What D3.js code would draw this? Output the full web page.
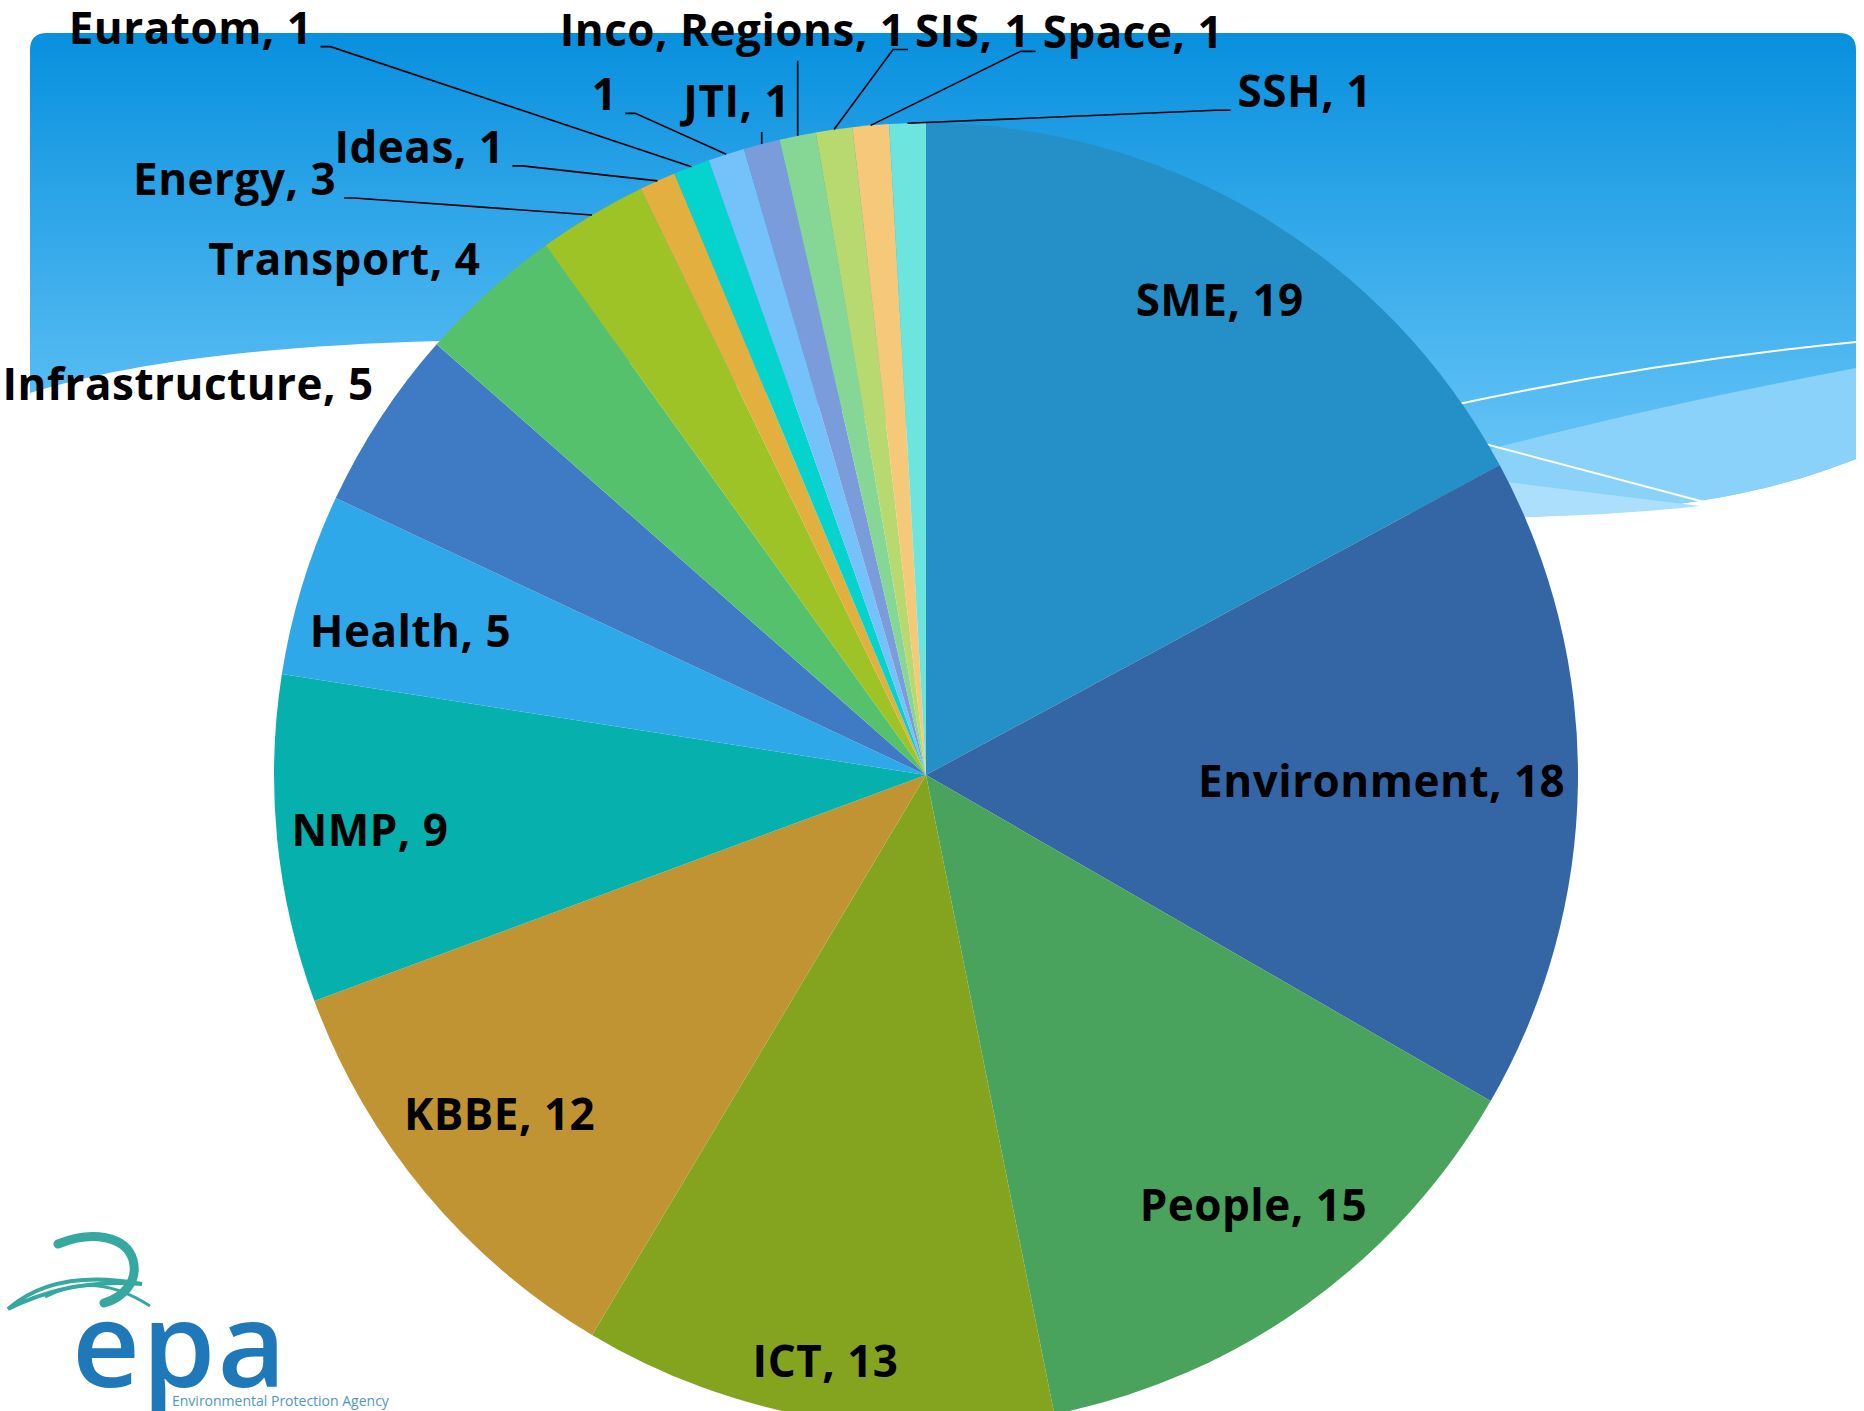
<!DOCTYPE html>
<html>
<head>
<meta charset="utf-8">
<script src="https://cdn.jsdelivr.net/npm/d3@7"></script>
<style>
body { margin: 0; background: #fff; }
svg { display: block; }
text { font-family: "Open Sans", sans-serif; }
</style>
</head>
<body>
<svg id="chart"></svg>
<script>
// data
var categories = ["SME", "Environment", "People", "ICT", "KBBE", "NMP", "Health", "Infrastructure", "Transport", "Energy",
	"Ideas", "Euratom", "", "JTI", "Inco, Regions", "SIS", "Space", "SSH"];
var counts = [19, 18, 15, 13, 12, 9, 5, 5, 4, 3, 1, 1, 1, 1, 1, 1, 1, 1];
var colors = ["#2490c7", "#3465a5", "#49a35d", "#84a420", "#c09432", "#05b0ad", "#2fa8e9", "#3f7bc4", "#56c16d", "#9dc326",
	"#e3b040", "#05d3ce", "#75c2fb", "#7b9cda", "#86d795", "#b8d870", "#f5c979", "#6ce5de"];

// labels inside the pie: [share of radius, angle shift in degrees from the bisector]
var insideLabels = {
	"SME": [0.857, 0.9], "Environment": [0.699, 0], "People": [0.829, -1.6], "ICT": [0.912, 0],
	"KBBE": [0.836, 1.2], "NMP": [0.857, 0], "Health": [0.821, -1.4]
};

// labels placed outside the pie (offset from the slice's arc midpoint)
var outsideLabels = {
	"Infrastructure": {anchor: "end", dx: -7, dy: -18, leader: "none"},
	"Transport": {anchor: "end", dx: -8, dy: -17, leader: "none"},
	"Energy": {anchor: "end", dx: -256, dy: -20, leader: "left"},
	"Ideas": {anchor: "end", dx: -153, dy: -18, leader: "left"},
	"Euratom": {anchor: "end", dx: -379, dy: -123, leader: "left"},
	"": {anchor: "end", dx: -109, dy: -44, leader: "left"},
	"JTI": {anchor: "middle", dx: -25, dy: -27, leader: "down"},
	"Inco, Regions": {anchor: "start", dx: -238, dy: -90, leader: "down"},
	"SIS": {anchor: "start", dx: 81, dy: -83, leader: "right"},
	"Space": {anchor: "start", dx: 172, dy: -77, leader: "right"},
	"SSH": {anchor: "start", dx: 330, dy: -16, leader: "right"}
};

var width = 1864,
	height = 1411;
var cx = 926, cy = 775, R = 652;
var fontSize = 44;

var svg = d3.select("#chart").attr("width", width).attr("height", height);

// background slide decoration
var defs = svg.append("defs");
var grad = defs.append("linearGradient").attr("id", "bg").attr("x1", 0).attr("y1", 0).attr("x2", 0).attr("y2", 1);
grad.append("stop").attr("offset", "0%").attr("stop-color", "#0890de");
grad.append("stop").attr("offset", "75%").attr("stop-color", "#57bcf3");
grad.append("stop").attr("offset", "100%").attr("stop-color", "#72caf8");

svg.append("path")
	.attr("d", "M30,50 Q30,33 47,33 L1839,33 Q1856,33 1856,50 L1856,459 C1790,485 1700,510 1525,517 C1100,520 700,340 440,341 C250,346 120,365 30,393 Z")
	.attr("fill", "url(#bg)");
svg.append("path")
	.attr("d", "M1480,452 C1620,415 1740,390 1856,368 L1856,459 C1790,485 1700,510 1525,517 L1480,517 Z")
	.attr("fill", "#8ad2f9");
svg.append("path")
	.attr("d", "M1490,480 Q1600,494 1700,506 Q1620,515 1525,517 L1490,517 Z")
	.attr("fill", "#abdffb");
svg.append("path")
	.attr("d", "M1440,408 Q1650,362 1856,342")
	.attr("fill", "none").attr("stroke", "#fff").attr("stroke-width", 2);
svg.append("path")
	.attr("d", "M1470,440 L1708,503")
	.attr("fill", "none").attr("stroke", "#fff").attr("stroke-width", 2);

// logo
var logo = svg.append("g");
logo.append("path")
	.attr("d", "M58,1244 C92,1230 126,1236 133,1260 C139,1282 122,1298 104,1303")
	.attr("fill", "none").attr("stroke", "#35a9a0").attr("stroke-width", 9).attr("stroke-linecap", "round");
logo.append("path")
	.attr("d", "M8,1309 Q55,1268 142,1284 Q70,1278 8,1309 Z")
	.attr("fill", "none").attr("stroke", "#35a9a0").attr("stroke-width", 4);
logo.append("path")
	.attr("d", "M45,1297 Q95,1270 150,1306")
	.attr("fill", "none").attr("stroke", "#35a9a0").attr("stroke-width", 3);
logo.append("text").text("epa")
	.attr("x", 72).attr("y", 1387)
	.attr("font-size", 118).attr("font-weight", 600).attr("letter-spacing", 2)
	.attr("fill", "#1f79b8");
logo.append("text").text("Environmental Protection Agency")
	.attr("x", 172).attr("y", 1406)
	.attr("font-size", 14).attr("fill", "#4f97c6");

// pie
var data = categories.map(function(c, i) { return {name: c, value: counts[i], color: colors[i]}; });
var pie = d3.pie().sort(null).value(function(d) { return d.value; });
var arcs = pie(data);
var arc = d3.arc().innerRadius(0).outerRadius(R);

var g = svg.append("g").attr("transform", "translate(" + cx + "," + cy + ")");

g.selectAll("path.slice")
	.data(arcs)
	.enter().append("path")
	.attr("class", "slice")
	.attr("d", arc)
	.attr("fill", function(d) { return d.data.color; });

function labelText(d) {
	return d.data.name ? d.data.name + ", " + d.data.value : String(d.data.value);
}

function pointAt(d, r, shift) {
	var a = (d.startAngle + d.endAngle) / 2 + (shift || 0) * Math.PI / 180;
	return [r * Math.sin(a), -r * Math.cos(a)];
}

// inside labels
arcs.forEach(function(d) {
	var k = insideLabels[d.data.name];
	if (k === undefined) return;
	var p = pointAt(d, R * k[0], k[1]);
	g.append("text").text(labelText(d))
		.attr("x", p[0]).attr("y", p[1] + fontSize * 0.36)
		.attr("font-size", fontSize).attr("font-weight", 700).attr("letter-spacing", 0.5)
		.attr("text-anchor", "middle").attr("fill", "#000");
});

// outside labels with leader lines
arcs.forEach(function(d) {
	var cfg = outsideLabels[d.data.name];
	if (cfg === undefined) return;
	var m = pointAt(d, R);
	var tx = m[0] + cfg.dx, ty = m[1] + cfg.dy;
	g.append("text").text(labelText(d))
		.attr("x", tx).attr("y", ty)
		.attr("font-size", fontSize).attr("font-weight", 700).attr("letter-spacing", 0.5)
		.attr("text-anchor", cfg.anchor).attr("fill", "#000");
	var pts = null;
	if (cfg.leader == "left") {
		pts = [[tx + 8, ty + 3], [tx + 18, ty + 3], m];
	}
	else if (cfg.leader == "right") {
		pts = [[tx - 7, ty + 3], [tx - 22, ty + 3], m];
	}
	else if (cfg.leader == "down") {
		pts = [[m[0], ty + 15], m];
	}
	if (pts) {
		g.append("path")
			.attr("d", d3.line()(pts))
			.attr("fill", "none").attr("stroke", "#000").attr("stroke-width", 1.6);
	}
});
</script>
</body>
</html>
